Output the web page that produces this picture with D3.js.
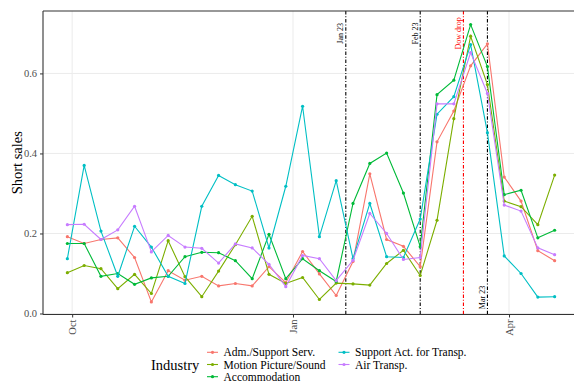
<!DOCTYPE html>
<html>
<head>
<meta charset="utf-8">
<script src="https://cdn.jsdelivr.net/npm/d3@7"></script>
<style>
  html, body { margin: 0; padding: 0; background: #fff; }
  svg { display: block; }
  text { font-family: "Liberation Serif", "Times New Roman", serif; }
</style>
</head>
<body>
<svg id="chart" width="574" height="383"></svg>
<script>
// Weekly observation dates (Thursdays)
const dates = [
  "2022-09-29","2022-10-06","2022-10-13","2022-10-20","2022-10-27",
  "2022-11-03","2022-11-10","2022-11-17","2022-11-24","2022-12-01",
  "2022-12-08","2022-12-15","2022-12-22","2022-12-29","2023-01-05",
  "2023-01-12","2023-01-19","2023-01-26","2023-02-02","2023-02-09",
  "2023-02-16","2023-02-23","2023-03-02","2023-03-09","2023-03-16",
  "2023-03-23","2023-03-30","2023-04-06","2023-04-13","2023-04-20"
];

const industries = [
  "Adm./Support Serv.",
  "Motion Picture/Sound",
  "Accommodation",
  "Support Act. for Transp.",
  "Air Transp."
];

const admSupport = [0.192,0.175,0.185,0.189,0.140,0.029,0.107,0.083,0.093,0.069,
                    0.075,0.069,0.117,0.077,0.155,0.099,0.045,0.130,0.349,0.185,
                    0.168,0.117,0.429,0.506,0.619,0.674,0.341,0.281,0.157,0.132];
const motionPicture = [0.102,0.120,0.112,0.062,0.098,0.050,0.182,0.092,0.042,0.106,
                       0.172,0.243,0.098,0.075,0.090,0.035,0.076,0.074,0.071,0.125,
                       0.158,0.095,0.233,0.487,0.693,0.572,0.281,0.267,0.222,0.346];
const accommodation = [0.175,0.175,0.093,0.100,0.073,0.089,0.093,0.142,0.153,0.152,
                       0.132,0.087,0.198,0.087,0.137,0.107,0.080,0.275,0.375,0.401,
                       0.301,0.167,0.547,0.583,0.722,0.617,0.297,0.308,0.189,0.208];
const supportTransp = [0.137,0.370,0.206,0.093,0.218,0.166,0.093,0.075,0.268,0.345,
                       0.322,0.306,0.164,0.318,0.518,0.192,0.332,0.137,0.275,0.142,
                       0.140,0.236,0.498,0.542,0.672,0.452,0.144,0.100,0.041,0.042];
const airTransp = [0.222,0.223,0.185,0.209,0.268,0.154,0.195,0.166,0.163,0.126,
                   0.174,0.164,0.123,0.067,0.145,0.137,0.082,0.133,0.250,0.200,
                   0.135,0.140,0.524,0.524,0.652,0.550,0.271,0.256,0.164,0.147];

const seriesValues = [admSupport, motionPicture, accommodation, supportTransp, airTransp];
const colors = ["#F8766D", "#7CAE00", "#00BA38", "#00BFC4", "#C77CFF"];

const yTicks = [0, 0.2, 0.4, 0.6];
const xTickDates = ["2022-10-01", "2023-01-01", "2023-04-01"];
const xTickLabels = ["Oct", "Jan", "Apr"];

// Event markers
const eventDates = ["2023-01-23", "2023-02-23", "2023-03-13", "2023-03-23"];
const eventLabels = ["Jan 23", "Feb 23", "Dow drop", "Mar 23"];
const eventLabelY = [0.70, 0.70, 0.70, 0.04];
const eventColors = ["#000000", "#000000", "#FF0000", "#000000"];

const parse = d3.utcParse("%Y-%m-%d");
const DAY = 864e5;

const svg = d3.select("#chart");
const panel = { left: 43, top: 11, bottom: 314.5, right: 579 };

const d0 = parse(dates[0]), d1 = parse(dates[dates.length - 1]);
const pad = (d1 - d0) * 0.05;
const x = d3.scaleUtc()
  .domain([new Date(+d0 - pad), new Date(+d1 + pad)])
  .range([panel.left, panel.right]);
const y = d3.scaleLinear()
  .domain([-0.0025, 0.756])
  .range([panel.bottom, panel.top]);

svg.append("rect").attr("width", 574).attr("height", 383).attr("fill", "#fff");

svg.append("defs").append("clipPath").attr("id", "clip")
  .append("rect")
  .attr("x", panel.left).attr("y", panel.top)
  .attr("width", panel.right - panel.left).attr("height", panel.bottom - panel.top);

const g = svg.append("g").attr("clip-path", "url(#clip)");

// grid
g.selectAll("line.hgrid").data(yTicks).join("line")
  .attr("x1", panel.left).attr("x2", panel.right)
  .attr("y1", d => y(d)).attr("y2", d => y(d))
  .attr("stroke", "#EBEBEB").attr("stroke-width", 1);
g.selectAll("line.vgrid").data(xTickDates).join("line")
  .attr("x1", d => x(parse(d))).attr("x2", d => x(parse(d)))
  .attr("y1", panel.top).attr("y2", panel.bottom)
  .attr("stroke", "#EBEBEB").attr("stroke-width", 1);

// event lines
g.selectAll("line.event").data(eventDates).join("line")
  .attr("x1", d => x(parse(d))).attr("x2", d => x(parse(d)))
  .attr("y1", panel.top).attr("y2", panel.bottom)
  .attr("stroke", (d, i) => eventColors[i])
  .attr("stroke-width", 1.1)
  .attr("stroke-dasharray", "3.5,1.8,1,1.8");

// series
const line = d3.line()
  .x((d, i) => x(parse(dates[i])))
  .y(d => y(d));

seriesValues.forEach((vals, s) => {
  g.append("path").datum(vals)
    .attr("d", line)
    .attr("fill", "none")
    .attr("stroke", colors[s])
    .attr("stroke-width", 1.1);
  g.selectAll("circle.s" + s).data(vals).join("circle")
    .attr("cx", (d, i) => x(parse(dates[i])))
    .attr("cy", d => y(d))
    .attr("r", 1.6)
    .attr("fill", colors[s]);
});

// event labels
eventDates.forEach((d, i) => {
  const ex = x(parse(d)) - 5;
  const ey = y(eventLabelY[i]);
  svg.append("text")
    .attr("transform", `translate(${ex},${ey}) rotate(-90)`)
    .attr("text-anchor", "middle")
    .attr("dominant-baseline", "central")
    .attr("font-size", 8)
    .attr("fill", eventColors[i] === "#FF0000" ? "#FF0000" : "#000")
    .text(eventLabels[i]);
});

// panel border
const border = svg.append("g").attr("stroke", "#333333").attr("stroke-width", 1.1);
border.append("line").attr("x1", panel.left).attr("x2", 574).attr("y1", panel.top).attr("y2", panel.top);
border.append("line").attr("x1", panel.left).attr("x2", 574).attr("y1", panel.bottom).attr("y2", panel.bottom);
border.append("line").attr("x1", panel.left).attr("x2", panel.left).attr("y1", panel.top).attr("y2", panel.bottom);

// y axis
const yAxis = svg.append("g")
  .attr("transform", `translate(${panel.left},0)`)
  .call(d3.axisLeft(y).tickValues(yTicks).tickFormat(d3.format(".1f")).tickSize(3).tickPadding(3));
yAxis.select(".domain").remove();
yAxis.selectAll(".tick line").attr("stroke", "#333333");
yAxis.selectAll(".tick text")
  .attr("font-family", "Liberation Serif, serif")
  .attr("font-size", 10.5).attr("fill", "#4D4D4D");

// x axis
const xAxis = svg.append("g")
  .attr("transform", `translate(0,${panel.bottom})`)
  .call(d3.axisBottom(x).tickValues(xTickDates.map(parse))
    .tickFormat((d, i) => xTickLabels[i]).tickSize(3));
xAxis.select(".domain").remove();
xAxis.selectAll(".tick line").attr("stroke", "#333333");
xAxis.selectAll(".tick text")
  .attr("font-family", "Liberation Serif, serif")
  .attr("font-size", 10.5).attr("fill", "#4D4D4D")
  .attr("transform", "rotate(-90)")
  .attr("x", -5).attr("y", 0).attr("dy", null)
  .attr("dominant-baseline", "central")
  .attr("text-anchor", "end");

// y title
svg.append("text")
  .attr("transform", `translate(17,${(panel.top + panel.bottom) / 2}) rotate(-90)`)
  .attr("text-anchor", "middle")
  .attr("dominant-baseline", "central")
  .attr("font-size", 14.5)
  .attr("fill", "#000")
  .text("Short sales");

// legend
const legend = svg.append("g");
legend.append("text")
  .attr("x", 151).attr("y", 365)
  .attr("dominant-baseline", "central")
  .attr("font-size", 14.5).attr("fill", "#000")
  .text("Industry");

const colX = [212.5, 344];
const rowY = [352.3, 364.5, 376.7];
industries.forEach((name, i) => {
  const col = Math.floor(i / 3), row = i % 3;
  const kx = colX[col], ky = rowY[row];
  legend.append("line")
    .attr("x1", kx - 5.5).attr("x2", kx + 5.5)
    .attr("y1", ky).attr("y2", ky)
    .attr("stroke", colors[i]).attr("stroke-width", 1.1);
  legend.append("circle")
    .attr("cx", kx).attr("cy", ky).attr("r", 1.6).attr("fill", colors[i]);
  legend.append("text")
    .attr("x", kx + 11).attr("y", ky)
    .attr("dominant-baseline", "central")
    .attr("font-size", 11.5).attr("fill", "#000")
    .text(name);
});
</script>
</body>
</html>
